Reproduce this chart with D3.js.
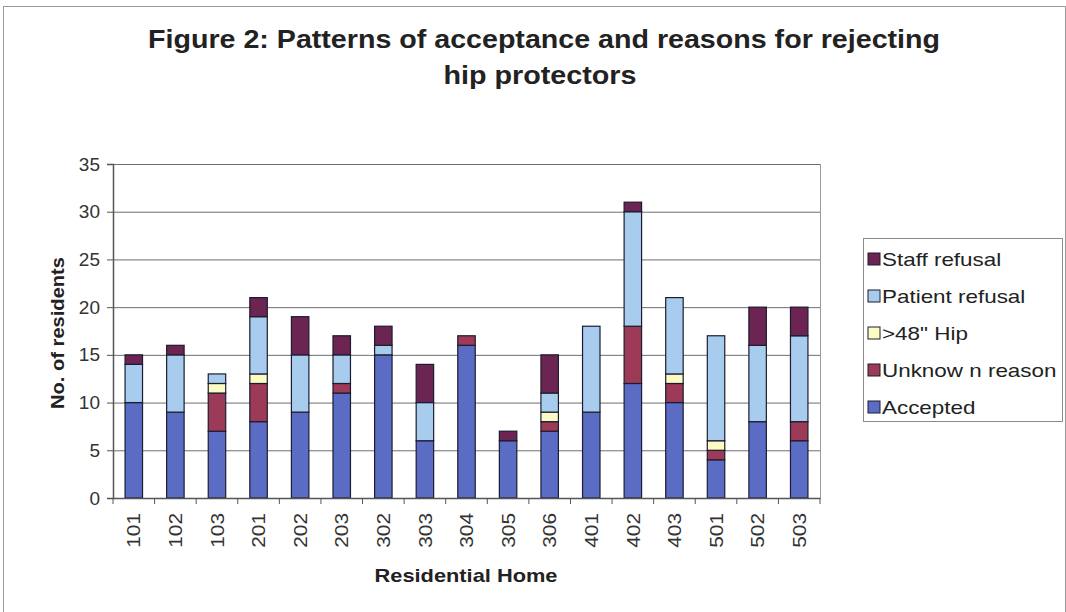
<!DOCTYPE html>
<html><head><meta charset="utf-8">
<script src="https://cdn.jsdelivr.net/npm/d3@7"></script>
<style>body{margin:0;background:#fff;}svg{display:block;font-family:"Liberation Sans",Arial,sans-serif;}</style>
</head><body><svg id="c" width="1066" height="612"></svg>
<script>
const homes = ["101","102","103","201","202","203","302","303","304","305","306","401","402","403","501","502","503"];
const accepted      = [10, 9, 7, 8, 9,11,15, 6,16, 6, 7, 9,12,10, 4, 8, 6];
const unknownReason = [ 0, 0, 4, 4, 0, 1, 0, 0, 1, 0, 1, 0, 6, 2, 1, 0, 2];
const hip48         = [ 0, 0, 1, 1, 0, 0, 0, 0, 0, 0, 1, 0, 0, 1, 1, 0, 0];
const patientRefusal= [ 4, 6, 1, 6, 6, 3, 1, 4, 0, 0, 2, 9,12, 8,11, 8, 9];
const staffRefusal  = [ 1, 1, 0, 2, 4, 2, 2, 4, 0, 1, 4, 0, 1, 0, 0, 4, 3];
const seriesNames = ["Accepted","Unknow n reason",">48\" Hip","Patient refusal","Staff refusal"];
const seriesColors = ["#5b6cc4","#9c3a58","#fdfbc4","#a8ccee","#6c2452"];
const yTicks = [0,5,10,15,20,25,30,35];

function stretch(sel,f){
  sel.each(function(){const L=this.getComputedTextLength();
    d3.select(this).attr("textLength",L*f).attr("lengthAdjust","spacingAndGlyphs");});
}

const svg = d3.select("#c");
const W=1066,H=612;
svg.append("rect").attr("x",3.5).attr("y",6.5).attr("width",W-4).attr("height",H-4).attr("fill","#fff").attr("stroke","#9a9a9a");

const m = {l:113,r:820,t:164,b:498};
const table = homes.map((h,i)=>({home:h,"Accepted":accepted[i],"Unknow n reason":unknownReason[i],">48\" Hip":hip48[i],"Patient refusal":patientRefusal[i],"Staff refusal":staffRefusal[i]}));
const stack = d3.stack().keys(seriesNames)(table);

const x = d3.scaleBand().domain(homes).range([m.l,m.r]).paddingInner(0.58).paddingOuter(0.29);
const y = d3.scaleLinear().domain([0,35]).range([m.b,m.t]);

// gridlines
svg.append("g").selectAll("line").data(yTicks.slice(1)).join("line")
  .attr("x1",m.l).attr("x2",m.r).attr("y1",d=>y(d)+0.5).attr("y2",d=>y(d)+0.5)
  .attr("stroke","#6e6e6e").attr("stroke-width",1);
svg.append("line").attr("x1",m.r+0.5).attr("x2",m.r+0.5).attr("y1",m.t).attr("y2",m.b).attr("stroke","#9a9a9a");

// bars
const colorOf = d3.scaleOrdinal().domain(seriesNames).range(seriesColors);
svg.append("g").selectAll("g").data(stack).join("g").attr("fill",d=>colorOf(d.key))
  .selectAll("rect").data(d=>d.filter(p=>p[1]>p[0])).join("rect")
  .attr("x",d=>x(d.data.home)).attr("width",x.bandwidth())
  .attr("y",d=>y(d[1])).attr("height",d=>y(d[0])-y(d[1]))
  .attr("stroke","#1c1c30").attr("stroke-width",1.2);

// axes
const yAxis = d3.axisLeft(y).tickValues(yTicks).tickSize(6).tickPadding(7);
const gy = svg.append("g").attr("transform",`translate(${m.l},0)`).call(yAxis);
gy.select(".domain").attr("stroke","#555").attr("stroke-width",1.5);
gy.selectAll(".tick line").attr("stroke","#555");
gy.selectAll("text").attr("font-size",19).attr("fill","#333").attr("font-family","Liberation Sans, Arial, sans-serif");

const xAxis = d3.axisBottom(x).tickSize(0).tickPadding(0);
const gx = svg.append("g").attr("transform",`translate(0,${m.b})`).call(xAxis);
gx.select(".domain").attr("stroke","#555").attr("stroke-width",1.5);
gx.selectAll(".tick text").attr("font-size",19).attr("fill","#333").attr("font-family","Liberation Sans, Arial, sans-serif")
  .attr("transform","rotate(-90)").attr("text-anchor","end").attr("dy","0.35em").attr("x",-15).attr("y",0)
  .call(stretch,1.1);
const step = x.step();
const bounds = d3.range(homes.length+1).map(i=> i===0? m.l : (i===homes.length? m.r : x(homes[i]) - x.paddingInner()*step/2));
svg.append("g").selectAll("line").data(bounds).join("line")
  .attr("x1",d=>d).attr("x2",d=>d).attr("y1",m.b).attr("y2",m.b+6).attr("stroke","#555");

// titles
svg.append("text").attr("x",544).attr("y",48).attr("text-anchor","middle").attr("font-weight","bold").attr("font-size",26).attr("fill","#222")
  .text("Figure 2: Patterns of acceptance and reasons for rejecting").attr("textLength",792).attr("lengthAdjust","spacingAndGlyphs");
svg.append("text").attr("x",540).attr("y",84).attr("text-anchor","middle").attr("font-weight","bold").attr("font-size",26).attr("fill","#222")
  .text("hip protectors").attr("textLength",193).attr("lengthAdjust","spacingAndGlyphs");

svg.append("text").attr("x",466).attr("y",582).attr("text-anchor","middle").attr("font-weight","bold").attr("font-size",19).attr("fill","#222")
  .text("Residential Home").attr("textLength",183).attr("lengthAdjust","spacingAndGlyphs");
svg.append("text").attr("transform","translate(64,333) rotate(-90)").attr("text-anchor","middle").attr("font-weight","bold").attr("font-size",19).attr("fill","#222")
  .text("No. of residents").attr("textLength",152).attr("lengthAdjust","spacingAndGlyphs");

// legend
const lg = svg.append("g");
lg.append("rect").attr("x",863.5).attr("y",238.5).attr("width",199).attr("height",183).attr("fill","#fff").attr("stroke","#8a8a8a");
const legendOrder = seriesNames.slice().reverse();
const li = lg.selectAll("g.li").data(legendOrder).join("g").attr("class","li")
  .attr("transform",(d,i)=>`translate(868,${259+i*37})`);
li.append("rect").attr("x",0).attr("y",-6).attr("width",12).attr("height",12).attr("fill",d=>colorOf(d)).attr("stroke","#1c1c30");
li.append("text").attr("x",14).attr("y",0).attr("dy","0.35em").attr("font-size",19).attr("fill","#222").text(d=>d).call(stretch,1.18);
</script></body></html>
